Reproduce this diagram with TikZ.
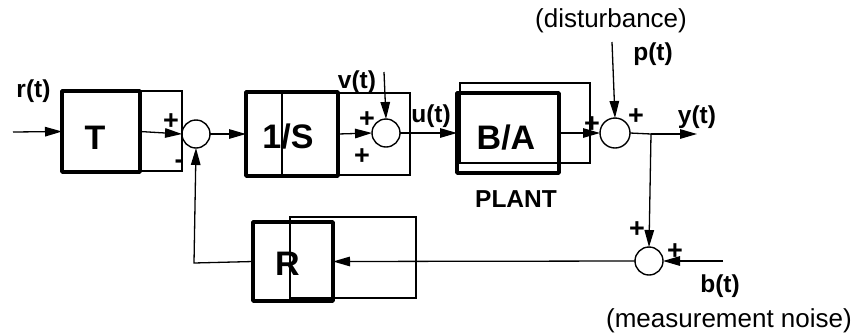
\documentclass[tikz,border=0pt]{standalone}
\usepackage{fontspec}
\setmainfont{Liberation Sans}
\usetikzlibrary{arrows.meta}
\begin{document}
\begin{tikzpicture}[x=1pt,y=-1pt,
  thinbox/.style={draw, rectangle, line width=1.3pt, inner sep=0pt, outer sep=0pt},
  blk/.style={draw, rectangle, line width=3.6pt, line join=round, inner sep=0pt, outer sep=0pt},
  sum/.style={draw, circle, line width=1.4pt, minimum size=28pt, inner sep=0pt, outer sep=0pt},
  conn/.style={line width=1.3pt},
  arr/.style={conn, -{Triangle[length=17pt,width=9.5pt]}},
  big/.style={font=\fontsize{34}{38}\selectfont\bfseries, inner sep=0pt, anchor=base},
  lbl/.style={font=\fontsize{24.5}{28}\selectfont\bfseries, inner sep=0pt, anchor=base},
  note/.style={font=\fontsize{26}{30}\selectfont, inner sep=0pt, anchor=base},
  sgn/.style={font=\fontsize{27}{30}\selectfont\bfseries, inner sep=0pt}
]
\useasboundingbox (0,0) rectangle (859,333);

% thin rectangles
\node[thinbox, minimum width=42pt, minimum height=80pt] (Tx) at (161,131) {};
\node[thinbox, minimum width=128pt, minimum height=82pt] (ISx) at (346,134) {};
\node[thinbox, minimum width=130pt, minimum height=80pt] (BAx) at (525,123) {};
\node[thinbox, minimum width=126pt, minimum height=81pt] (Rx) at (353,257.5) {};

% thick blocks
\node[blk, minimum width=78pt, minimum height=81pt] (T) at (101,131.5) {};
\node[blk, minimum width=92pt, minimum height=84pt] (IS) at (292,134) {};
\node[blk, minimum width=102pt, minimum height=80pt] (BA) at (508,133) {};
\node[blk, minimum width=80pt, minimum height=79pt] (R) at (293,261.5) {};

% block texts
\node[big] (Tt) at (95,149) {T};
\node[big] (ISt) at (288,148.5) {1/S};
\node[big] (BAt) at (506,149) {B/A};
\node[big] (Rt) at (287.5,275) {R};

% summing junctions
\node[sum] (s1) at (196,134) {};
\node[sum] (s2) at (386,133) {};
\node[sum, minimum size=30pt] (s3) at (615,133) {};
\node[sum] (s4) at (649,261) {};

% free ends
\coordinate (rin) at (13,132);
\coordinate (vin) at (384,72);
\coordinate (pin) at (612,42);
\coordinate (br) at (651,134);
\coordinate (yout) at (697,134);
\coordinate (bin) at (723,261);
\coordinate (fb) at (194,263);

% connectors
\draw[arr] (rin) -- (T.west);
\draw[arr] (T.east) -- (s1.west);
\draw[arr] (s1.east) -- (IS.west);
\draw[arr] (IS.east) -- (s2.west);
\draw[arr] (vin) -- (s2.north);
\draw[arr] (s2.east) -- (BA.west);
\draw[arr] (BA.east) -- (s3.west);
\draw[arr] (pin) -- (s3.north);
\draw[conn] (s3.east) -- (br);
\draw[arr] (br) -- (yout);
\draw[arr] (br) -- (s4.north);
\draw[arr] (bin) -- (s4.east);
\draw[arr] (s4.west) -- (R.east);
\draw[arr] (R.west) -- (fb) -- (s1.south);

% signal labels
\node[lbl] (rl) at (33.5,97) {r(t)};
\node[lbl] (vl) at (357,88) {v(t)};
\node[lbl] (ul) at (431,122) {u(t)};
\node[lbl] (pl) at (653,60) {p(t)};
\node[lbl] (yl) at (697,123) {y(t)};
\node[lbl] (bl) at (720,292) {b(t)};
\node[lbl] (plant) at (516,207) {PLANT};
\node[note] (dist) at (611,27) {(disturbance)};
\node[note] (noise) at (729,327) {(measurement noise)};

% signs
\node[sgn] (p1) at (171,122) {+};
\node[sgn] (m1) at (179,164) {-};
\node[sgn] (p2a) at (367,120) {+};
\node[sgn] (p2b) at (362,157) {+};
\node[sgn] (p3a) at (592,125) {+};
\node[sgn] (p3b) at (636,117) {+};
\node[sgn] (p4a) at (637,230) {+};
\node[sgn] (p4b) at (675,252) {+};
\end{tikzpicture}
\end{document}
